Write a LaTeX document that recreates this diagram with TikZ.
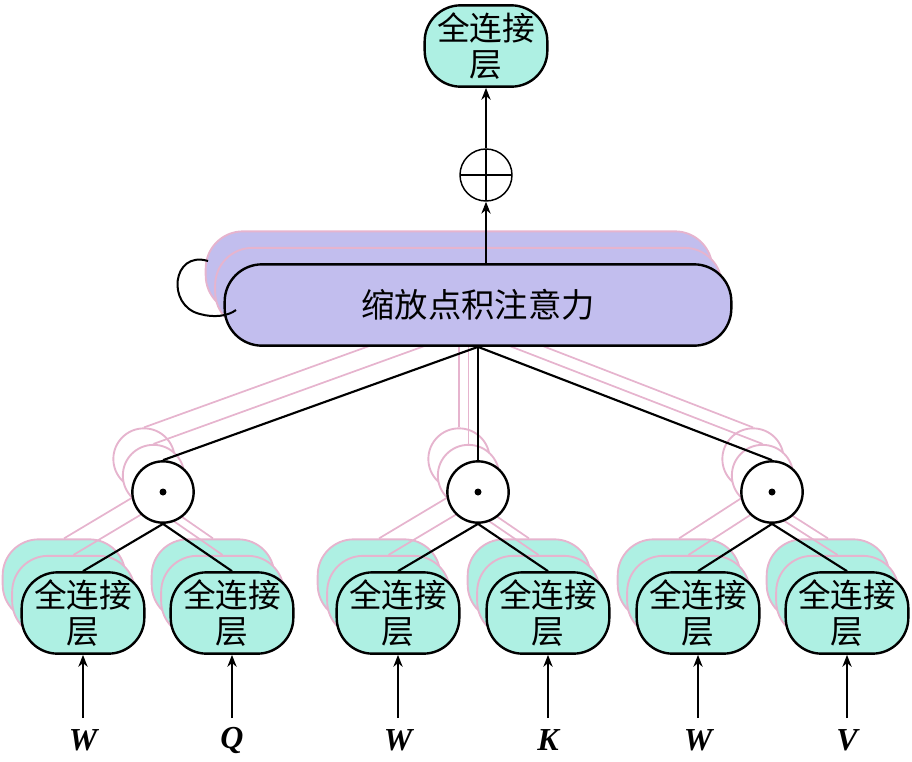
\documentclass[tikz,border=0pt]{standalone}
\usepackage{fontspec}
\newfontfamily\cjk{Noto Sans CJK SC}
\newfontfamily\lbl{Liberation Serif}
\usetikzlibrary{arrows.meta}
\definecolor{fcfill}{HTML}{AEF0E3}
\definecolor{attfill}{HTML}{C2BEEE}
\definecolor{ghostc}{RGB}{230,180,206}
\tikzset{
  fcbox/.style={draw=black, line width=1.8pt, fill=fcfill, rounded corners=27pt,
    minimum width=92pt, minimum height=61pt, inner sep=0pt, align=center,
    font=\cjk\fontsize{24.5}{26.5}\selectfont},
  attbox/.style={draw=black, line width=1.8pt, fill=attfill, rounded corners=28pt,
    minimum width=380pt, minimum height=61pt, inner sep=0pt,
    font=\cjk\fontsize{25}{28}\selectfont},
  odotc/.style={circle, draw=black, line width=1.8pt, fill=white, minimum size=46pt, inner sep=0pt},
  opc/.style={circle, draw=black, line width=1.1pt, fill=white, minimum size=39pt, inner sep=0pt,
    path picture={\draw[line width=1.1pt] (path picture bounding box.north) -- (path picture bounding box.south)
      (path picture bounding box.west) -- (path picture bounding box.east);}},
  ghostnode/.style={draw=ghostc, line width=1.4pt},
  ghostline/.style={draw=ghostc, line width=1.3pt},
  conn/.style={draw=black, line width=1.6pt},
  arr/.style={draw=black, line width=1pt, -{Stealth[length=9pt,width=7pt]}},
  inlbl/.style={font=\lbl\bfseries\itshape\fontsize{24}{26}\selectfont, inner sep=0pt},
}
\begin{document}
\begin{tikzpicture}[x=0.75pt,y=-0.75pt]
\useasboundingbox (0,0) rectangle (912,761);
% ghost layers
\foreach \k in {2,1}{
  \begin{scope}[shift={(-9.5*\k,-16.5*\k)}]
    \node[attbox, ghostnode] (attg\k) at (478,305) {};
    \foreach \i/\x in {1/163,2/478,3/772}
      \node[odotc, ghostnode] (cg\k-\i) at (\x,492) {};
    \foreach \j/\x in {1/83,2/232,3/398,4/548,5/698,6/847}
      \node[fcbox, ghostnode] (fg\k-\j) at (\x,613) {};
    \foreach \i in {1,2,3}
      \draw[ghostline] (cg\k-\i.north) -- (attg\k.south);
    \foreach \i/\a/\b in {1/1/2,2/3/4,3/5/6}{
      \draw[ghostline] (fg\k-\a.north) -- (cg\k-\i.south);
      \draw[ghostline] (fg\k-\b.north) -- (cg\k-\i.south);
    }
  \end{scope}
}
% main layer
\node[fcbox] (top) at (486,46) {全连接\\层};
\node[opc] (op) at (486,175) {};
\node[attbox] (att) at (478,305) {缩放点积注意力};
\foreach \i/\x in {1/163,2/478,3/772}{
  \node[odotc] (c\i) at (\x,492) {};
  \fill (c\i.center) circle (3.5);
}
\foreach \j/\x in {1/83,2/232,3/398,4/548,5/698,6/847}
  \node[fcbox] (f\j) at (\x,613) {全连接\\层};
\foreach \i in {1,2,3}
  \draw[conn] (c\i.north) -- (att.south);
\foreach \i/\a/\b in {1/1/2,2/3/4,3/5/6}{
  \draw[conn] (f\a.north) -- (c\i.south);
  \draw[conn] (f\b.north) -- (c\i.south);
}
\draw[arr] (op.south |- att.north) -- (op.south);
\draw[arr] (op.north) -- (top.south);
% self loop
\coordinate (lp1) at (208,261);
\coordinate (lp2) at (236,310);
\draw[line width=1.5pt] (lp1) .. controls (172,250) and (166,306) .. (200,314)
  .. controls (214,318) and (228,316) .. (lp2);
% inputs
\foreach \j/\x/\t in {1/83/W,2/232/Q,3/398/W,4/548/K,5/698/W,6/847/V}{
  \node[inlbl] (x\j) at (\x,740) {\t};
  \coordinate (in\j) at (\x,718);
  \draw[arr] (in\j) -- (f\j.south);
}
\end{tikzpicture}
\end{document}
